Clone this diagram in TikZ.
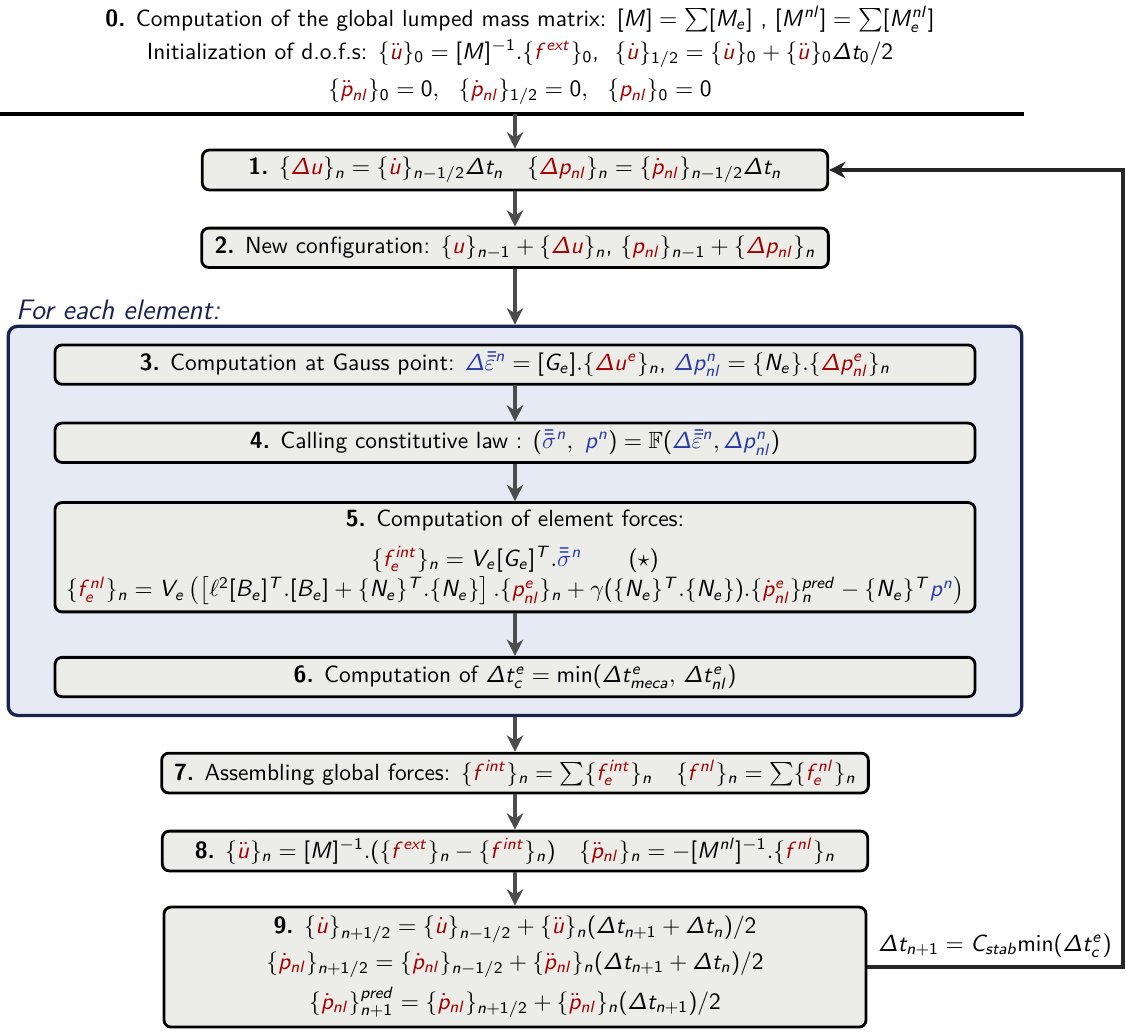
\documentclass[tikz,border=0pt]{standalone}
\usepackage{amsmath}
\usepackage{amssymb}
\usepackage{tikz}
\usetikzlibrary{positioning,fit,backgrounds,arrows.meta}

\renewcommand{\familydefault}{\sfdefault}
% sans serif math letters
\makeatletter
\DeclareSymbolFont{sfitletters}{OT1}{cmss}{m}{sl}
\SetSymbolFont{operators}{normal}{OT1}{cmss}{m}{n}
\SetSymbolFont{operators}{bold}{OT1}{cmss}{bx}{n}
\DeclareMathSymbol{\sfDelta}{\mathalpha}{sfitletters}{"01}
\@tempcnta=`a
\loop
  \mathcode\@tempcnta=\numexpr"7000+\symsfitletters*"100+\@tempcnta\relax
  \advance\@tempcnta by 1
\ifnum\@tempcnta<\numexpr`z+1\relax
\repeat
\@tempcnta=`A
\loop
  \mathcode\@tempcnta=\numexpr"7000+\symsfitletters*"100+\@tempcnta\relax
  \advance\@tempcnta by 1
\ifnum\@tempcnta<\numexpr`Z+1\relax
\repeat
\makeatother

\definecolor{vred}{RGB}{163,0,0}
\definecolor{vblue}{RGB}{40,60,165}
\definecolor{navy}{RGB}{26,35,80}
\definecolor{elemfill}{RGB}{230,234,245}
\definecolor{boxfill}{RGB}{236,236,232}
\newcommand{\cred}[1]{{\color{vred}#1}}
\newcommand{\cblue}[1]{{\color{vblue}#1}}

\begin{document}
\begin{tikzpicture}[
    stepbox/.style={draw=black, line width=1.2pt, fill=boxfill, rounded corners=3pt,
                    align=center, minimum height=0.59cm, inner sep=3pt},
    flow/.style={-{Stealth[length=7pt,width=7pt]}, line width=1.4pt, draw=black!70},
    back/.style={-{Stealth[length=7pt,width=7pt]}, line width=1.8pt, draw=black!85}
  ]
  \useasboundingbox (0,0) rectangle (16.89,-15.48);

  % initialisation
  \node[align=center, anchor=north, inner sep=0pt] (init) at (7.8,-0.09) {%
    \textbf{0.} Computation of the global lumped mass matrix: $[M]=\sum[M_e]$ , $[M^{nl}]=\sum[M_e^{nl}]$\\[2pt]
    Initialization of d.o.f.s: $\{\cred{\ddot u}\}_0=[M]^{-1}.\{\cred{f^{ext}}\}_0$,\ \ $\{\cred{\dot u}\}_{1/2}=\{\cred{\dot u}\}_0+\{\cred{\ddot u}\}_0\sfDelta t_0/2$\\[4pt]
    $\{\cred{\ddot p_{nl}}\}_0=0,\ \ \{\cred{\dot p_{nl}}\}_{1/2}=0,\ \ \{\cred{p_{nl}}\}_0=0$};
  \coordinate (barl) at (0,-1.71);
  \coordinate (barr) at (15.36,-1.71);
  \coordinate (bartop) at (7.725,-1.71);
  \draw[line width=1.8pt] (barl) -- (barr);

  % time loop
  \node[stepbox, minimum width=9.38cm] (b1) at (7.725,-2.55) {%
    \textbf{1.} $\{\cred{\sfDelta u}\}_n=\{\cred{\dot u}\}_{n-1/2}\sfDelta t_n\quad\{\cred{\sfDelta p_{nl}}\}_n=\{\cred{\dot p_{nl}}\}_{n-1/2}\sfDelta t_n$};
  \node[stepbox, minimum width=9.4cm, below=0.53cm of b1] (b2) {%
    \textbf{2.} New configuration: $\{\cred{u}\}_{n-1}+\{\cred{\sfDelta u}\}_n$, $\{\cred{p_{nl}}\}_{n-1}+\{\cred{\sfDelta p_{nl}}\}_n$};

  % element loop
  \node[stepbox, minimum width=13.8cm, below=1.12cm of b2] (b3) {%
    \textbf{3.} Computation at Gauss point: $\cblue{\sfDelta\bar{\bar{\varepsilon}}^n}=[G_e].\{\cred{\sfDelta u^e}\}_n$, $\cblue{\sfDelta p^n_{nl}}=\{N_e\}.\{\cred{\sfDelta p^e_{nl}}\}_n$};
  \node[stepbox, minimum width=13.8cm, below=0.54cm of b3] (b4) {%
    \textbf{4.} Calling constitutive law : $(\cblue{\bar{\bar{\sigma}}^n},\ \cblue{p^n})=\mathbb{F}(\cblue{\sfDelta\bar{\bar{\varepsilon}}^n},\cblue{\sfDelta p^n_{nl}})$};
  \node[stepbox, minimum width=13.8cm, minimum height=1.64cm, below=0.56cm of b4] (b5) {%
    \textbf{5.} Computation of element forces:\\[5pt]
    $\{\cred{f_e^{int}}\}_n=V_e[G_e]^T.\cblue{\bar{\bar{\sigma}}^n}\qquad(\star)$\\[1pt]
    $\{\cred{f_e^{nl}}\}_n=V_e\left(\left[\ell^2[B_e]^T.[B_e]+\{N_e\}^T.\{N_e\}\right].\{\cred{p^e_{nl}}\}_n+\gamma(\{N_e\}^T.\{N_e\}).\{\cred{\dot p^e_{nl}}\}^{pred}_n-\{N_e\}^T\cblue{p^n}\right)$};
  \node[stepbox, minimum width=13.8cm, below=0.64cm of b5] (b6) {%
    \textbf{6.} Computation of $\sfDelta t^e_c=\min(\sfDelta t^e_{meca},\,\sfDelta t^e_{nl})$};
  \begin{pgfonlayer}{background}
    \node[draw=navy, line width=1.4pt, fill=elemfill, rounded corners=4pt,
          inner xsep=0.68cm, inner ysep=0.26cm, fit=(b3)(b6)] (elem) {};
  \end{pgfonlayer}
  \node[anchor=south west, font=\large\itshape, text=navy, inner sep=1pt] (elemlbl)
    at ([xshift=0.1cm,yshift=0.03cm]elem.north west) {For each element:};

  % global steps
  \node[stepbox, minimum width=10.6cm, below=0.52cm of elem] (b7) {%
    \textbf{7.} Assembling global forces: $\{\cred{f^{int}}\}_n=\sum\{\cred{f_e^{int}}\}_n\quad\{\cred{f^{nl}}\}_n=\sum\{\cred{f_e^{nl}}\}_n$};
  \node[stepbox, minimum width=10.58cm, below=0.53cm of b7] (b8) {%
    \textbf{8.} $\{\cred{\ddot u}\}_n=[M]^{-1}.(\{\cred{f^{ext}}\}_n-\{\cred{f^{int}}\}_n)\quad\{\cred{\ddot p_{nl}}\}_n=-[M^{nl}]^{-1}.\{\cred{f^{nl}}\}_n$};
  \node[stepbox, minimum width=10.53cm, minimum height=1.8cm, below=0.5cm of b8] (b9) {%
    \textbf{9.} $\{\cred{\dot u}\}_{n+1/2}=\{\cred{\dot u}\}_{n-1/2}+\{\cred{\ddot u}\}_n(\sfDelta t_{n+1}+\sfDelta t_n)/2$\\[3pt]
    $\{\cred{\dot p_{nl}}\}_{n+1/2}=\{\cred{\dot p_{nl}}\}_{n-1/2}+\{\cred{\ddot p_{nl}}\}_n(\sfDelta t_{n+1}+\sfDelta t_n)/2$\\[3pt]
    $\{\cred{\dot p_{nl}}\}^{pred}_{n+1}=\{\cred{\dot p_{nl}}\}_{n+1/2}+\{\cred{\ddot p_{nl}}\}_n(\sfDelta t_{n+1})/2$};

  \draw[flow] (bartop) -- (b1);
  \draw[flow] (b1) -- (b2);
  \draw[flow] (b2.south) -- (b2.south |- elem.north);
  \draw[flow] (b3) -- (b4);
  \draw[flow] (b4) -- (b5);
  \draw[flow] (b5) -- (b6);
  \draw[flow] (b7.north |- elem.south) -- (b7);
  \draw[flow] (b7) -- (b8);
  \draw[flow] (b8) -- (b9);

  % back to next step
  \coordinate (loop) at (16.84,0);
  \draw[back] (b9.east) -- node[above, pos=0.5] (dtlbl) {$\sfDelta t_{n+1}=C_{stab}\mathrm{min}(\sfDelta t^e_c)$}
    (b9.east -| loop) -- (b1.east -| loop) -- (b1.east);
\end{tikzpicture}
\end{document}
